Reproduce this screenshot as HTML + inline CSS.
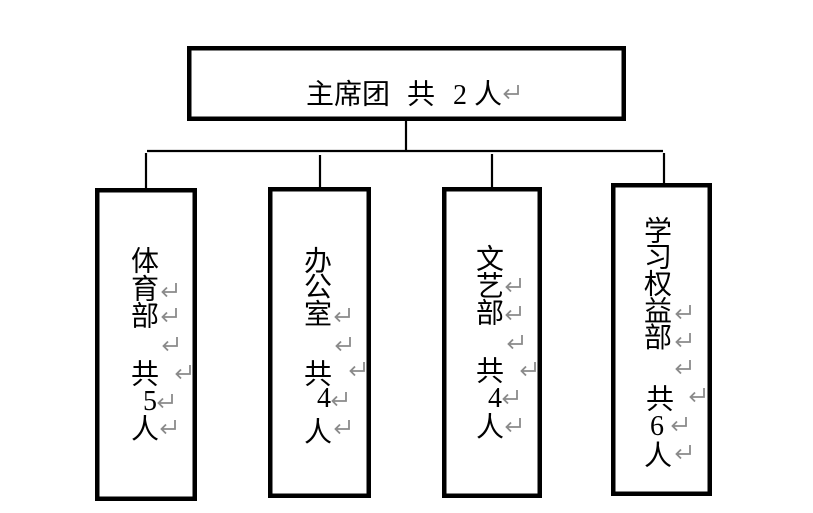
<!DOCTYPE html>
<html><head><meta charset="utf-8"><style>
html,body{margin:0;padding:0;background:#fff;}
svg{display:block;}
.c{font-family:"Liberation Sans","Noto Sans CJK SC",sans-serif;font-size:28px;fill:#000;}
.d{font-family:"Liberation Serif",serif;font-size:28px;fill:#000;}
.r{fill:none;stroke:#8a8a8a;stroke-width:1.8;}
</style></head><body>
<svg width="813" height="513" viewBox="0 0 813 513" xmlns="http://www.w3.org/2000/svg">
<rect width="813" height="513" fill="#fff"/>
<!-- connectors -->
<g stroke="#000" stroke-width="2.2" fill="none">
<line x1="406" y1="120" x2="406" y2="152"/>
<line x1="147" y1="151" x2="663" y2="151"/>
<line x1="146" y1="153" x2="146" y2="188"/>
<line x1="320" y1="155" x2="320" y2="188"/>
<line x1="492" y1="154" x2="492" y2="188"/>
<line x1="664" y1="153" x2="664" y2="184"/>
</g>
<!-- boxes -->
<g stroke="#000" stroke-width="4.5" fill="#fff">
<rect x="189.25" y="48.25" width="434.5" height="70.5"/>
<rect x="97.25" y="190.25" width="97.5" height="308.5"/>
<rect x="270.25" y="189.25" width="98.5" height="306.5"/>
<rect x="444.25" y="189.25" width="95.5" height="306.5"/>
<rect x="613.25" y="185.25" width="96.5" height="308.5"/>
</g>
<!-- top text -->
<text class="c" x="306" y="103.5">主</text>
<text class="c" x="334" y="103.5">席</text>
<text class="c" x="362" y="103.5">团</text>
<text class="c" x="407" y="103.5">共</text>
<text class="d" x="453" y="104">2</text>
<text class="c" x="474" y="103.5">人</text>
<path class="r" d="M518 85V94H505M509 89.5L504.5 94L509 98.5"/>

<!-- box 1 -->
<text class="c" x="131" y="270.5">体</text>
<text class="c" x="131" y="298.5">育</text>
<text class="c" x="131" y="325.5">部</text>
<text class="c" x="131" y="383.5">共</text>
<text class="d" x="143" y="410">5</text>
<text class="c" x="131" y="438.5">人</text>
<path class="r" d="M176 283V292H163M167 287.5L162.5 292L167 296.5"/>
<path class="r" d="M176 308V317H163M167 312.5L162.5 317L167 321.5"/>
<path class="r" d="M177 337V346H164M168 341.5L163.5 346L168 350.5"/>
<path class="r" d="M190 365V374H177M181 369.5L176.5 374L181 378.5"/>
<path class="r" d="M172 394V403H159M163 398.5L158.5 403L163 407.5"/>
<path class="r" d="M175 420V429H162M166 424.5L161.5 429L166 433.5"/>

<!-- box 2 -->
<text class="c" x="304" y="270.5">办</text>
<text class="c" x="304" y="296.5">公</text>
<text class="c" x="304" y="323.5">室</text>
<text class="c" x="304" y="383.5">共</text>
<text class="d" x="317" y="407">4</text>
<text class="c" x="304" y="441.5">人</text>
<path class="r" d="M349 308V317H336M340 312.5L335.5 317L340 321.5"/>
<path class="r" d="M350 337V346H337M341 341.5L336.5 346L341 350.5"/>
<path class="r" d="M364 362V371H351M355 366.5L350.5 371L355 375.5"/>
<path class="r" d="M346 392V401H333M337 396.5L332.5 401L337 405.5"/>
<path class="r" d="M349 420V429H336M340 424.5L335.5 429L340 433.5"/>

<!-- box 3 -->
<text class="c" x="476" y="268.5">文</text>
<text class="c" x="476" y="295.5">艺</text>
<text class="c" x="476" y="322.5">部</text>
<text class="c" x="476" y="380.5">共</text>
<text class="d" x="488" y="407">4</text>
<text class="c" x="476" y="436.5">人</text>
<path class="r" d="M520 278V287H507M511 282.5L506.5 287L511 291.5"/>
<path class="r" d="M520 306V315H507M511 310.5L506.5 315L511 319.5"/>
<path class="r" d="M522 335V344H509M513 339.5L508.5 344L513 348.5"/>
<path class="r" d="M535 362V371H522M526 366.5L521.5 371L526 375.5"/>
<path class="r" d="M517 390V399H504M508 394.5L503.5 399L508 403.5"/>
<path class="r" d="M520 418V427H507M511 422.5L506.5 427L511 431.5"/>

<!-- box 4 -->
<text class="c" x="644" y="240.5">学</text>
<text class="c" x="644" y="266.5">习</text>
<text class="c" x="644" y="293.5">权</text>
<text class="c" x="644" y="320.5">益</text>
<text class="c" x="644" y="347">部</text>
<text class="c" x="646" y="408.5">共</text>
<text class="d" x="650" y="435">6</text>
<text class="c" x="644" y="465">人</text>
<path class="r" d="M690 305V314H677M681 309.5L676.5 314L681 318.5"/>
<path class="r" d="M690 333V342H677M681 337.5L676.5 342L681 346.5"/>
<path class="r" d="M690 360V369H677M681 364.5L676.5 369L681 373.5"/>
<path class="r" d="M704 388V397H691M695 392.5L690.5 397L695 401.5"/>
<path class="r" d="M686 417V426H673M677 421.5L672.5 426L677 430.5"/>
<path class="r" d="M690 445V454H677M681 449.5L676.5 454L681 458.5"/>
</svg>
</body></html>
